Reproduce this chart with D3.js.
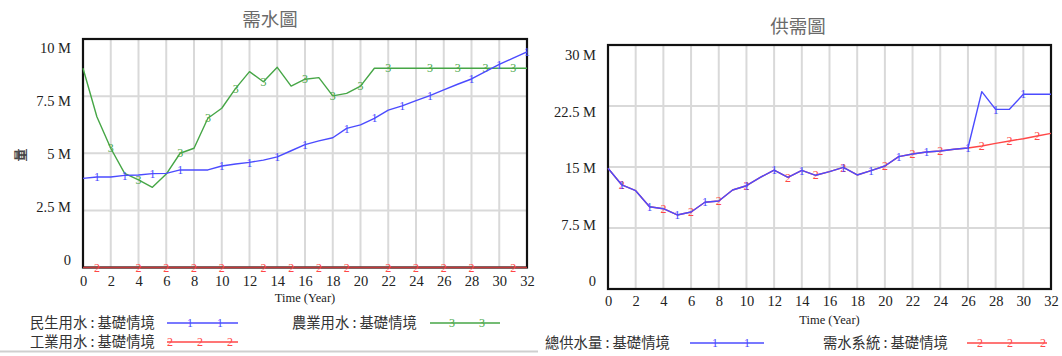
<!DOCTYPE html>
<html>
<head>
<meta charset="utf-8">
<script src="https://cdn.jsdelivr.net/npm/d3@7"></script>
<style>
  html, body { margin: 0; padding: 0; background: #fff; }
  svg { display: block; }
</style>
</head>
<body>
<svg id="chart" width="1062" height="356"></svg>
<script>
// Simulation years
const years = d3.range(0, 33);

// 需水圖 series (million m³)
const domesticUse = [3.90, 3.96, 3.96, 4.03, 4.05, 4.11, 4.12, 4.27, 4.27, 4.27, 4.44, 4.53, 4.60, 4.70, 4.84, 5.11,
  5.38, 5.54, 5.68, 6.09, 6.24, 6.53, 6.89, 7.07, 7.30, 7.52, 7.77, 8.02, 8.25, 8.57, 8.89, 9.16, 9.44];
const industrialUse = [0, 0, 0, 0, 0, 0, 0, 0, 0, 0, 0, 0, 0, 0, 0, 0,
  0, 0, 0, 0, 0, 0, 0, 0, 0, 0, 0, 0, 0, 0, 0, 0, 0];
const agriculturalUse = [8.72, 6.60, 5.22, 4.12, 3.83, 3.51, 4.09, 5.00, 5.22, 6.53, 6.97, 7.84, 8.57, 8.13, 8.76, 7.94,
  8.24, 8.31, 7.51, 7.62, 7.94, 8.72, 8.72, 8.72, 8.72, 8.72, 8.72, 8.72, 8.72, 8.72, 8.72, 8.72, 8.72];

// 供需圖 series (million m³)
const totalSupply = [14.84, 12.79, 12.09, 10.12, 9.87, 9.10, 9.47, 10.66, 10.82, 12.17, 12.70, 13.73, 14.63, 13.73, 14.59, 13.98,
  14.43, 14.96, 14.02, 14.55, 15.12, 16.27, 16.60, 16.84, 16.97, 17.18, 17.34, 24.26, 22.09, 22.09, 23.94, 23.94, 23.94];
const demandSystem = [14.84, 12.79, 12.09, 10.12, 9.87, 9.10, 9.47, 10.66, 10.82, 12.17, 12.70, 13.73, 14.63, 13.73, 14.59, 13.98,
  14.43, 14.96, 14.02, 14.55, 15.12, 16.27, 16.60, 16.84, 16.97, 17.18, 17.34, 17.58, 17.91, 18.20, 18.48, 18.81, 19.14];

// Years at which each series carries its numbered marker
const domesticMarks = [1, 3, 5, 7, 10, 12, 14, 16, 19, 21, 23, 25, 28, 30, 32];
const industrialMarks = [1, 4, 6, 8, 10, 13, 15, 17, 19, 22, 24, 26, 28, 31];
const agriculturalMarks = [2, 4, 7, 9, 11, 13, 16, 18, 20, 22, 25, 27, 29, 31];
const supplyMarks = [1, 3, 5, 7, 10, 12, 14, 17, 19, 21, 23, 26, 28, 30];
const demandMarks = [1, 4, 6, 8, 10, 13, 15, 17, 20, 22, 24, 27, 29, 31];

// Axis ticks
const xTicks = [0, 2, 4, 6, 8, 10, 12, 14, 16, 18, 20, 22, 24, 26, 28, 30, 32];
const demandTicks = [0, 2.5, 5, 7.5, 10];
const balanceTicks = [0, 7.5, 15, 22.5, 30];

// Titles and legend labels
const titles = ["需水圖", "供需圖"];
const demandLabels = ["民生用水 : 基礎情境", "工業用水 : 基礎情境", "農業用水 : 基礎情境"];
const balanceLabels = ["總供水量 : 基礎情境", "需水系統 : 基礎情境"];
const xAxisTitle = "Time (Year)";
const yUnitLabel = "量";

const BLUE = "#4b4bff", RED = "#ff4747", GREEN = "#46a646";
const SERIF = "'Liberation Serif', 'Times New Roman', serif";
const CJK = "'Noto Sans CJK TC', 'Noto Sans CJK SC', sans-serif";

const svg = d3.select("#chart");

function fmtM(d) { return d === 0 ? "0" : `${d} M`; }

function drawPanel(cfg) {
  const g = svg.append("g");
  const x = d3.scaleLinear().domain([0, 32]).range([cfg.left, cfg.right]);
  const y = d3.scaleLinear().domain([0, cfg.yMax]).range([cfg.bottom, cfg.top]);
  // tick labels sit on an evenly spaced band of their own
  const yLabel = d3.scaleLinear().domain([0, cfg.yMax]).range(cfg.labelRange);

  // grid
  g.append("g").selectAll("line.v").data(xTicks).join("line")
    .attr("x1", d => x(d)).attr("x2", d => x(d))
    .attr("y1", cfg.top).attr("y2", cfg.bottom)
    .attr("stroke", "#d9d9d9").attr("stroke-width", 2);
  g.append("g").selectAll("line.h").data(cfg.yTicks).join("line")
    .attr("x1", cfg.left).attr("x2", cfg.right)
    .attr("y1", d => y(d)).attr("y2", d => y(d))
    .attr("stroke", "#d9d9d9").attr("stroke-width", 2);

  // frame
  g.append("rect")
    .attr("x", cfg.left).attr("y", cfg.top)
    .attr("width", cfg.right - cfg.left).attr("height", cfg.bottom - cfg.top)
    .attr("fill", "none").attr("stroke", "#111").attr("stroke-width", 2.2);

  // y axis labels
  const yAxis = d3.axisLeft(yLabel).tickValues(cfg.yTicks).tickFormat(fmtM).tickSize(0).tickPadding(0);
  const ya = g.append("g").attr("transform", `translate(${cfg.yLabelX},0)`).call(yAxis);
  ya.select(".domain").remove();
  ya.selectAll("text").attr("font-family", SERIF).attr("font-size", 14.5).attr("fill", "#222").attr("dy", "0.34em");

  // x axis labels
  const xAxis = d3.axisBottom(x).tickValues(xTicks).tickSize(0).tickPadding(0);
  const xa = g.append("g").attr("transform", `translate(0,${cfg.xLabelY})`).call(xAxis);
  xa.select(".domain").remove();
  xa.selectAll("text").attr("font-family", SERIF).attr("font-size", 14.5).attr("fill", "#222").attr("dy", "0.34em");

  g.append("text").attr("x", (cfg.left + cfg.right) / 2).attr("y", cfg.xTitleY)
    .attr("text-anchor", "middle").attr("dy", "0.34em")
    .attr("font-family", SERIF).attr("font-size", 12.5).attr("fill", "#222").text(xAxisTitle);

  g.append("text").attr("x", cfg.titleX).attr("y", cfg.titleY)
    .attr("text-anchor", "middle").attr("dy", "0.36em")
    .attr("font-family", CJK).attr("font-size", 18.5).attr("fill", "#6a6a6a").text(cfg.title);

  // series lines with numbered markers
  const line = d3.line().x((d, i) => x(years[i])).y(d => y(d));
  cfg.series.forEach(s => {
    g.append("path").datum(s.values).attr("d", line)
      .attr("fill", "none").attr("stroke", s.color).attr("stroke-width", 1.4)
      .attr("stroke-opacity", s.opacity || 1).attr("stroke-linejoin", "round");
    g.append("g").selectAll("text").data(s.marks).join("text")
      .attr("x", d => x(d)).attr("y", d => y(s.values[d]))
      .attr("text-anchor", "middle").attr("dy", "0.35em")
      .attr("font-family", SERIF).attr("font-size", 12).attr("fill", s.color)
      .text(s.glyph);
  });
  return { x, y, g };
}

// 需水圖
drawPanel({
  left: 83, right: 527, top: 39, bottom: 267.5, yMax: 10,
  yTicks: demandTicks, labelRange: [260, 48], yLabelX: 71,
  xLabelY: 281, xTitleY: 298, titleX: 270, titleY: 19, title: titles[0],
  series: [
    { values: industrialUse, marks: industrialMarks, color: RED, glyph: "2", opacity: 0.75 },
    { values: agriculturalUse, marks: agriculturalMarks, color: GREEN, glyph: "3" },
    { values: domesticUse, marks: domesticMarks, color: BLUE, glyph: "1" }
  ]
});

// 供需圖
drawPanel({
  left: 608, right: 1051, top: 45, bottom: 289, yMax: 30,
  yTicks: balanceTicks, labelRange: [281, 54.5], yLabelX: 596,
  xLabelY: 301.5, xTitleY: 320, titleX: 798, titleY: 26, title: titles[1],
  series: [
    { values: demandSystem, marks: demandMarks, color: RED, glyph: "2" },
    { values: totalSupply, marks: supplyMarks, color: BLUE, glyph: "1" }
  ]
});

// small unit label beside the left value axis
svg.append("text").attr("transform", "translate(20,155) rotate(-90)")
  .attr("text-anchor", "middle").attr("dy", "0.36em")
  .attr("font-family", CJK).attr("font-size", 13).attr("font-weight", "bold").attr("fill", "#444")
  .text(yUnitLabel);

// legends
function legendItem(label, color, glyph, tx, ty, lx1, lx2, markXs) {
  const g = svg.append("g");
  g.append("text").attr("x", tx).attr("y", ty).attr("dy", "0.36em")
    .attr("font-family", CJK).attr("font-size", 14.3).attr("fill", "#333").text(label);
  g.append("line").attr("x1", lx1).attr("x2", lx2).attr("y1", ty).attr("y2", ty)
    .attr("stroke", color).attr("stroke-width", 1.4);
  g.selectAll("text.m").data(markXs).join("text")
    .attr("x", d => d).attr("y", ty).attr("text-anchor", "middle").attr("dy", "0.35em")
    .attr("font-family", SERIF).attr("font-size", 12).attr("fill", color).text(glyph);
}
legendItem(demandLabels[0], BLUE, "1", 30, 323, 167, 238, [190, 220]);
legendItem(demandLabels[2], GREEN, "3", 292, 323, 430, 500, [452, 482]);
legendItem(demandLabels[1], RED, "2", 30, 342, 167, 238, [170, 200, 230]);
legendItem(balanceLabels[0], BLUE, "1", 545, 343, 690, 764, [715, 747]);
legendItem(balanceLabels[1], RED, "2", 823, 343, 967, 1047, [980, 1010, 1043]);

// panel separator under the left chart
svg.append("line").attr("x1", 0).attr("x2", 538).attr("y1", 351.5).attr("y2", 351.5)
  .attr("stroke", "#cfcfcf").attr("stroke-width", 2);
</script>
</body>
</html>
